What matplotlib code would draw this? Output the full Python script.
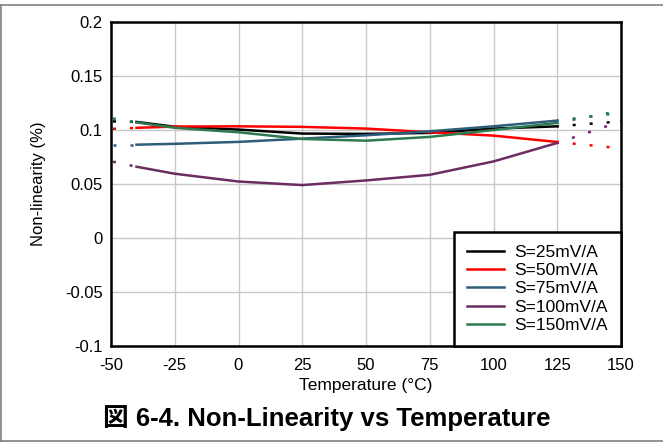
import matplotlib
matplotlib.use("Agg")
import matplotlib.pyplot as plt
from matplotlib.lines import Line2D

plt.rcParams['font.family'] = ['Liberation Sans', 'Noto Sans CJK JP', 'DejaVu Sans']

temps = [-50, -40, -25, 0, 25, 50, 75, 100, 125, 150]
s25 = [0.108, 0.1075, 0.103, 0.1004, 0.0967, 0.0964, 0.0973, 0.1013, 0.1034, 0.108]
s50 = [0.101, 0.102, 0.1032, 0.1034, 0.1029, 0.1013, 0.0979, 0.0948, 0.0889, 0.083]
s75 = [0.0864, 0.0864, 0.0872, 0.089, 0.092, 0.0951, 0.0988, 0.1034, 0.1087, 0.116]
s100 = [0.071, 0.066, 0.0595, 0.0523, 0.049, 0.0533, 0.0585, 0.0709, 0.088, 0.108]
s150 = [0.111, 0.107, 0.102, 0.0979, 0.0917, 0.0901, 0.0936, 0.100, 0.1066, 0.118]

series_labels = ["S=25mV/A", "S=50mV/A", "S=75mV/A", "S=100mV/A", "S=150mV/A"]
series_values = [s25, s50, s75, s100, s150]
colors = ["#000000", "#ff0000", "#2d5d7b", "#6b2c64", "#2e7a50"]

xticks = [-50, -25, 0, 25, 50, 75, 100, 125, 150]
yticks = [0.2, 0.15, 0.1, 0.05, 0, -0.05, -0.1]
ytick_labels = ["0.2", "0.15", "0.1", "0.05", "0", "-0.05", "-0.1"]

fig = plt.figure(figsize=(6.63, 4.45), dpi=100)
ax = fig.add_axes([111/663, 1-346/445, 510/663, 324/445])

# figure frame lines
fig.add_artist(Line2D([0, 1], [1-5/445, 1-5/445], color="#808080", lw=1.2, transform=fig.transFigure))
fig.add_artist(Line2D([0, 1], [1-441/445, 1-441/445], color="#808080", lw=1.2, transform=fig.transFigure))
fig.add_artist(Line2D([1/663, 1/663], [1-441/445, 1-5/445], color="#808080", lw=1.2, transform=fig.transFigure))

LW = 1.8
for vals, c, lab in zip(series_values, colors, series_labels):
    # extrapolated (dotted) ends
    ax.plot(temps[0:2], vals[0:2], color=c, lw=LW, linestyle=(6.0, (1.2, 5.6)),
            dash_capstyle='butt', zorder=2)
    ax.plot(temps[8:10], vals[8:10], color=c, lw=LW, linestyle=(0.6, (1.2, 5.6)),
            dash_capstyle='butt', zorder=2)
    # measured range (solid)
    ax.plot(temps[1:9], vals[1:9], color=c, lw=LW, label=lab, zorder=3)

ax.set_xlim(-50, 150)
ax.set_ylim(-0.1, 0.2)
ax.set_xticks(xticks)
ax.set_xticklabels([str(t) for t in xticks], fontsize=12)
ax.set_yticks(yticks)
ax.set_yticklabels(ytick_labels, fontsize=12)
ax.tick_params(axis='x', length=0, pad=9)
ax.tick_params(axis='y', length=0, pad=6)
ax.grid(True, color="#c8c8c8", lw=1)
ax.set_axisbelow(True)
for sp in ax.spines.values():
    sp.set_linewidth(1.8)
    sp.set_color("black")

ax.set_xlabel("Temperature (°C)", fontsize=12.5, labelpad=3)
ax.set_ylabel("Non-linearity (%)", fontsize=12)
ax.yaxis.set_label_coords(-0.128, 0.5)

leg = ax.legend(loc="lower right", borderaxespad=0, fontsize=12.5, frameon=True,
                fancybox=False, framealpha=1, edgecolor="black",
                handlelength=2.1, handletextpad=0.6, labelspacing=0.18,
                borderpad=0.75)
leg.get_frame().set_linewidth(1.8)

fig.text(103/663, 1-426/445, "図 6-4. Non-Linearity vs Temperature", fontsize=18.5,
         fontweight="bold", ha="left", va="baseline")

fig.savefig("out.png", dpi=100)
